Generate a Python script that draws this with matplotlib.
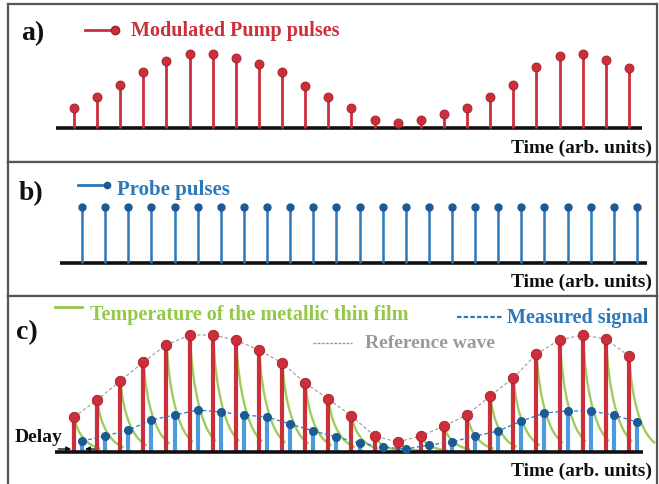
import numpy as np
import matplotlib
matplotlib.use("Agg")
import matplotlib.pyplot as plt

# --- data (heights in arb. units) ---
pulse_index = np.arange(25)
probe_delay = 0.35  # probe lags the pump by about a third of the period

pump_a = [20, 31, 43, 56, 67, 74, 74, 70, 64, 56, 42, 31, 20, 8, 5, 8, 14, 20, 31, 43, 61, 72, 74, 68, 60]
probe_b = [56] * 25
pump_c = [35, 52, 71, 90, 107, 117, 117, 112, 102, 89, 69, 53, 36, 16, 10, 16, 26, 37, 56, 74, 98, 112, 117, 113, 96]
measured_c = [11, 16, 22, 32, 37, 42, 40, 37, 35, 28, 21, 15, 9, 5, 3, 7, 10, 16, 21, 31, 39, 41, 41, 37, 30]

# thermal decay after each pump pulse (fraction of peak vs. fraction of period)
decay_t = [0, 0.1, 0.2, 0.3, 0.4, 0.5, 0.6, 0.7, 0.8, 0.9, 1.0, 1.1]
decay_frac = [1.0, 0.76, 0.60, 0.49, 0.40, 0.33, 0.27, 0.22, 0.18, 0.15, 0.12, 0.10]

RED = "#cc2f3a"
RED_DARK = "#9e1f29"
BLUE = "#2c78b8"
BLUE_DARK = "#1b5a96"
BLUE_LIGHT = "#4a9be0"
GREEN = "#93c84a"
GRAY = "#9a9a9a"
FRAME = "#555555"
SERIF = ["Liberation Serif", "DejaVu Serif"]

W, H = 659, 485
fig = plt.figure(figsize=(W / 100, H / 100), dpi=100)
fig.patch.set_facecolor("white")


def make_panel(top, bottom, ylim):
    ax = fig.add_axes([8 / W, 1 - bottom / H, 649 / W, (bottom - top) / H])
    ax.set_xlim(-2.855, 25.216)
    ax.set_ylim(*ylim)
    ax.set_xticks([])
    ax.set_yticks([])
    for s in ax.spines.values():
        s.set_color(FRAME)
        s.set_linewidth(1.6)
    return ax


def legend_text(ax, x, y, s, color, size=14.5):
    ax.text(x, y, s, transform=ax.transAxes, color=color, fontsize=size,
            fontweight="bold", family=SERIF, va="center", ha="left")


def panel_tag(ax, x, y, s):
    ax.text(x, y, s, transform=ax.transAxes, fontsize=20, fontweight="bold",
            family=SERIF, va="center", ha="left", color="#111111")


def time_label(ax, y):
    ax.text(0.992, y, "Time (arb. units)", transform=ax.transAxes, fontsize=14,
            fontweight="bold", family=SERIF, va="center", ha="right", color="#111111")


# ---------------- a) pump ----------------
ax_a = make_panel(5, 163, (-34, 124))
ax_a.hlines(0, -0.78, 24.57, color="#111111", lw=2.6, zorder=2)
ax_a.vlines(pulse_index, 0, pump_a, color=RED, lw=2.0, zorder=3)
ax_a.plot(pulse_index, pump_a, "o", ms=6.5, color=RED, mec=RED_DARK, mew=0.6, zorder=4)
panel_tag(ax_a, 0.02, 0.82, "a)")
ax_a.plot([0.119, 0.163], [0.835, 0.835], transform=ax_a.transAxes, color=RED, lw=2)
ax_a.plot([0.165], [0.835], "o", transform=ax_a.transAxes, ms=6, color=RED, mec=RED_DARK)
legend_text(ax_a, 0.19, 0.835, "Modulated Pump pulses", RED)
time_label(ax_a, 0.095)

# ---------------- b) probe ----------------
ax_b = make_panel(163, 297, (-33, 101))
ax_b.hlines(0, -0.6, 24.8, color="#111111", lw=2.6, zorder=2)
ax_b.vlines(pulse_index + probe_delay, 0, probe_b, color=BLUE, lw=1.8, zorder=3)
ax_b.plot(pulse_index + probe_delay, probe_b, "o", ms=5, color=BLUE_DARK, zorder=4)
panel_tag(ax_b, 0.017, 0.77, "b)")
ax_b.plot([0.108, 0.152], [0.828, 0.828], transform=ax_b.transAxes, color=BLUE, lw=2)
ax_b.plot([0.153], [0.828], "o", transform=ax_b.transAxes, ms=4.5, color=BLUE_DARK)
legend_text(ax_b, 0.168, 0.80, "Probe pulses", BLUE, size=15)
time_label(ax_b, 0.112)

# ---------------- c) combined ----------------
ax_c = make_panel(297, 487, (-34, 156))
ax_c.spines["bottom"].set_visible(False)
ax_c.hlines(0, -0.82, 24.6, color="#111111", lw=2.6, zorder=6)

# measured signal stems
ax_c.vlines(pulse_index + probe_delay, 0, measured_c, color=BLUE_LIGHT, lw=3.0, zorder=2)

# temperature decay after each pump pulse
for i, h in zip(pulse_index, pump_c):
    ax_c.plot(i + np.array(decay_t), h * np.array(decay_frac), color=GREEN, lw=1.7,
              alpha=0.9, zorder=3)

# pump stems
ax_c.vlines(pulse_index, 0, pump_c, color=RED, lw=3.0, zorder=4)
ax_c.plot(pulse_index, pump_c, "o", ms=7.5, color=RED, mec=RED_DARK, mew=0.6, zorder=7)

# reference wave and measured envelope
ax_c.plot(pulse_index, pump_c, ls=(0, (3, 2)), lw=0.8, color=GRAY, zorder=5)
ax_c.plot(pulse_index + probe_delay, measured_c, ls=(0, (3, 2)), lw=0.9, color=BLUE, zorder=5)
ax_c.plot(pulse_index + probe_delay, measured_c, "o", ms=5.5, color=BLUE_DARK, zorder=7)

panel_tag(ax_c, 0.012, 0.81, "c)")
ax_c.plot([0.073, 0.114], [0.94, 0.94], transform=ax_c.transAxes, color=GREEN, lw=2)
legend_text(ax_c, 0.126, 0.905, "Temperature of the metallic thin film", GREEN)
ax_c.plot([0.692, 0.762], [0.89, 0.89], transform=ax_c.transAxes, color=BLUE,
          lw=1.6, ls=(0, (2, 1)))
legend_text(ax_c, 0.769, 0.89, "Measured signal", BLUE)
ax_c.plot([0.47, 0.53], [0.755, 0.755], transform=ax_c.transAxes, color=GRAY,
          lw=1.0, ls=(0, (2, 1)))
legend_text(ax_c, 0.55, 0.755, "Reference wave", GRAY, size=14)
ax_c.text(0.011, 0.26, "Delay", transform=ax_c.transAxes, fontsize=14, fontweight="bold",
          family=SERIF, va="center", ha="left", color="#111111")
ax_c.annotate("", xy=(0, 3), xytext=(-0.8, 3),
              arrowprops=dict(arrowstyle="-|>", color="#111111", lw=1.0, mutation_scale=7))
ax_c.annotate("", xy=(probe_delay, 3), xytext=(1.0, 3),
              arrowprops=dict(arrowstyle="-|>", color="#111111", lw=1.0, mutation_scale=7))
time_label(ax_c, 0.08)

fig.savefig("out.png", dpi=100, facecolor="white")
